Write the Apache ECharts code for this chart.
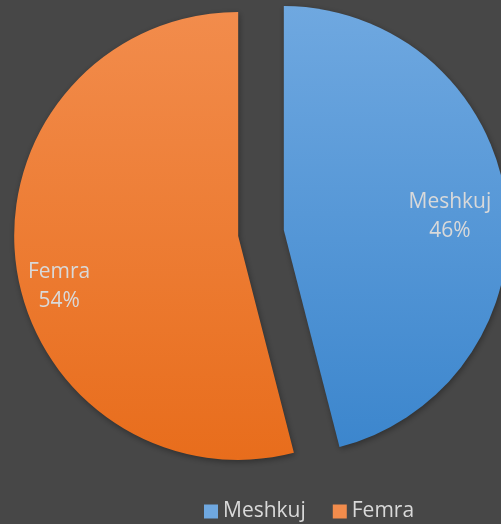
<!DOCTYPE html>
<html>
<head>
<meta charset="utf-8">
<script src="https://cdn.jsdelivr.net/npm/echarts@6/dist/echarts.min.js"></script>
<style>
  html, body { margin: 0; padding: 0; background: #474747; }
  #chart { width: 501px; height: 524px; }
</style>
</head>
<body>
<div id="chart"></div>
<script>
// te dhenat
var categories = ["Meshkuj", "Femra"];
var values = [46, 54];
var topColors = ["#6fa8e0", "#f28c4c"];
var bottomColors = ["#3c86cd", "#e86d1c"];
// label shift from the default inside spot
var labelShift = [[52, 1], [-65, 36]];

var chart = echarts.init(document.getElementById("chart"));

var pieData = categories.map(function (name, i) {
  return {
    name: name,
    value: values[i],
    selected: true,
    itemStyle: {
      color: new echarts.graphic.LinearGradient(0, 0, 0, 1, [
        { offset: 0, color: topColors[i] },
        { offset: 1, color: bottomColors[i] }
      ])
    }
  };
});

chart.setOption({
  backgroundColor: "#474747",
  animation: false,
  legend: {
    bottom: -3,
    left: 199,
    icon: "rect",
    itemWidth: 14,
    itemHeight: 14,
    itemGap: 27,
    itemStyle: { borderWidth: 0 },
    selectedMode: false,
    data: categories.map(function (c, i) {
      return { name: c, itemStyle: { color: topColors[i] } };
    }),
    textStyle: { color: "#d9d9d9", fontSize: 21, fontFamily: "Open Sans" }
  },
  series: [{
    type: "pie",
    center: [261, 233],
    radius: [0, 224],
    startAngle: 90,
    clockwise: true,
    selectedMode: "multiple",
    selectedOffset: 23,
    silent: true,
    itemStyle: {
      shadowBlur: 6,
      shadowColor: "rgba(0,0,0,0.35)",
      shadowOffsetX: 1,
      shadowOffsetY: 2
    },
    label: {
      show: true,
      position: "inside",
      formatter: "{b}\n{d}%",
      color: "#d9d9d9",
      fontSize: 21,
      lineHeight: 29,
      fontFamily: "Open Sans"
    },
    labelLine: { show: false },
    labelLayout: function (p) {
      var s = labelShift[p.dataIndex];
      return { dx: s[0], dy: s[1] };
    },
    data: pieData
  }]
});
</script>
</body>
</html>
